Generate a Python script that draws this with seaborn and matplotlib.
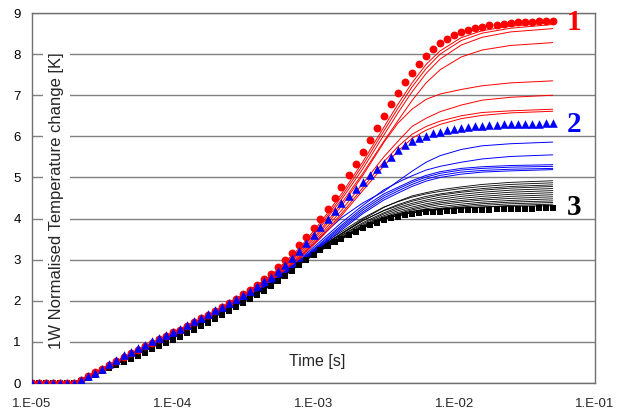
import matplotlib
matplotlib.use("Agg")
import matplotlib.pyplot as plt
from matplotlib.patches import Rectangle
from matplotlib.ticker import NullLocator
import seaborn as sns

# ---------------- data ----------------
TIME = [
    1.00e-05, 1.12e-05, 1.26e-05, 1.41e-05, 1.58e-05, 1.78e-05, 2.00e-05, 2.24e-05, 2.51e-05, 2.82e-05,
    3.16e-05, 3.55e-05, 3.98e-05, 4.47e-05, 5.01e-05, 5.62e-05, 6.31e-05, 7.08e-05, 7.94e-05, 8.91e-05,
    1.00e-04, 1.12e-04, 1.26e-04, 1.41e-04, 1.58e-04, 1.78e-04, 2.00e-04, 2.24e-04, 2.51e-04, 2.82e-04,
    3.16e-04, 3.55e-04, 3.98e-04, 4.47e-04, 5.01e-04, 5.62e-04, 6.31e-04, 7.08e-04, 7.94e-04, 8.91e-04,
    1.00e-03, 1.12e-03, 1.26e-03, 1.41e-03, 1.58e-03, 1.78e-03, 2.00e-03, 2.24e-03, 2.51e-03, 2.82e-03,
    3.16e-03, 3.55e-03, 3.98e-03, 4.47e-03, 5.01e-03, 5.62e-03, 6.31e-03, 7.08e-03, 7.94e-03, 8.91e-03,
    1.00e-02, 1.12e-02, 1.26e-02, 1.41e-02, 1.58e-02, 1.78e-02, 2.00e-02, 2.24e-02, 2.51e-02, 2.82e-02,
    3.16e-02, 3.55e-02, 3.98e-02, 4.47e-02, 5.01e-02,
]

CURVE_1 = [
    0, 0, 0, 0, 0, 0, 0,
    0.07, 0.17, 0.26, 0.35, 0.45, 0.54, 0.64, 0.72, 0.80, 0.90, 0.98, 1.06, 1.15,
    1.23, 1.30, 1.39, 1.48, 1.57, 1.66, 1.75, 1.85, 1.95, 2.05,
    2.16, 2.27, 2.39, 2.52, 2.66, 2.81, 2.98, 3.16, 3.35, 3.55,
    3.76, 3.99, 4.23, 4.49, 4.76, 5.05, 5.33, 5.61, 5.91, 6.21,
    6.49, 6.78, 7.05, 7.31, 7.54, 7.76, 7.95, 8.12, 8.26, 8.37,
    8.46, 8.53, 8.59, 8.63, 8.67, 8.70, 8.72, 8.74, 8.76, 8.77,
    8.78, 8.79, 8.80, 8.80, 8.81,
]

CURVE_2 = [
    0, 0, 0, 0, 0, 0, 0,
    0.08, 0.17, 0.25, 0.35, 0.46, 0.56, 0.67, 0.76, 0.84, 0.93, 1.01, 1.09, 1.17,
    1.25, 1.32, 1.41, 1.50, 1.59, 1.68, 1.77, 1.86, 1.95, 2.05,
    2.15, 2.25, 2.36, 2.47, 2.59, 2.72, 2.88, 3.05, 3.22, 3.40,
    3.59, 3.79, 3.99, 4.18, 4.37, 4.55, 4.73, 4.90, 5.06, 5.21,
    5.35, 5.50, 5.66, 5.78, 5.88, 5.96, 6.02, 6.07, 6.11, 6.15,
    6.18, 6.21, 6.23, 6.25, 6.26, 6.27, 6.28, 6.29, 6.29, 6.30,
    6.30, 6.31, 6.31, 6.32, 6.32,
]

CURVE_3 = [
    0, 0, 0, 0, 0, 0, 0,
    0.04, 0.12, 0.20, 0.28, 0.36, 0.44, 0.52, 0.59, 0.66, 0.74, 0.82, 0.90, 0.98,
    1.05, 1.13, 1.21, 1.29, 1.38, 1.47, 1.56, 1.65, 1.74, 1.84,
    1.94, 2.04, 2.14, 2.25, 2.36, 2.47, 2.60, 2.73, 2.87, 3.00,
    3.12, 3.23, 3.33, 3.42, 3.51, 3.60, 3.68, 3.77, 3.84, 3.90,
    3.96, 4.01, 4.05, 4.08, 4.11, 4.13, 4.15, 4.16, 4.17, 4.18,
    4.19, 4.20, 4.21, 4.21, 4.22, 4.22, 4.23, 4.23, 4.23, 4.24,
    4.24, 4.24, 4.25, 4.25, 4.25,
]

THIN_TIME = [1.00e-05, 2.00e-05, 3.16e-05, 5.62e-05, 1.00e-04, 1.78e-04, 3.16e-04, 5.01e-04,
             7.94e-04, 1.12e-03, 1.58e-03, 2.24e-03, 3.16e-03, 3.98e-03, 5.01e-03, 6.31e-03,
             7.94e-03, 1.12e-02, 1.58e-02, 2.51e-02, 5.01e-02]

RED_THIN = [
    [0, 0, 0.35, 0.80, 1.23, 1.65, 2.15, 2.62, 3.28, 3.90, 4.60, 5.38, 6.22, 6.78, 7.30, 7.75, 8.08, 8.40, 8.57, 8.68, 8.76],
    [0, 0, 0.34, 0.79, 1.22, 1.64, 2.14, 2.60, 3.24, 3.84, 4.53, 5.30, 6.13, 6.68, 7.20, 7.65, 8.00, 8.33, 8.51, 8.63, 8.72],
    [0, 0, 0.35, 0.80, 1.22, 1.64, 2.13, 2.58, 3.20, 3.79, 4.46, 5.21, 6.03, 6.57, 7.08, 7.53, 7.88, 8.22, 8.41, 8.54, 8.62],
    [0, 0, 0.34, 0.79, 1.21, 1.63, 2.12, 2.56, 3.16, 3.72, 4.37, 5.10, 5.88, 6.38, 6.87, 7.30, 7.62, 7.93, 8.10, 8.21, 8.28],
    [0, 0, 0.35, 0.80, 1.22, 1.63, 2.12, 2.55, 3.12, 3.67, 4.30, 5.05, 5.85, 6.32, 6.66, 6.90, 7.03, 7.14, 7.23, 7.30, 7.35],
    [0, 0, 0.34, 0.79, 1.21, 1.62, 2.11, 2.53, 3.08, 3.61, 4.20, 4.85, 5.50, 5.88, 6.24, 6.44, 6.60, 6.76, 6.88, 6.95, 7.00],
    [0, 0, 0.34, 0.79, 1.21, 1.62, 2.10, 2.52, 3.05, 3.56, 4.12, 4.75, 5.38, 5.75, 6.05, 6.24, 6.37, 6.50, 6.58, 6.62, 6.66],
    [0, 0, 0.33, 0.78, 1.20, 1.61, 2.09, 2.50, 3.02, 3.52, 4.07, 4.68, 5.28, 5.64, 5.95, 6.15, 6.29, 6.43, 6.51, 6.57, 6.61],
]

BLUE_THIN = [
    [0, 0, 0.34, 0.80, 1.21, 1.62, 2.10, 2.50, 3.05, 3.55, 4.02, 4.38, 4.66, 4.91, 5.15, 5.37, 5.53, 5.68, 5.77, 5.82, 5.86],
    [0, 0, 0.34, 0.79, 1.20, 1.61, 2.09, 2.48, 3.00, 3.45, 3.90, 4.32, 4.70, 4.88, 5.04, 5.18, 5.27, 5.37, 5.45, 5.51, 5.55],
    [0, 0, 0.33, 0.79, 1.20, 1.61, 2.08, 2.46, 2.97, 3.40, 3.84, 4.26, 4.60, 4.76, 4.92, 5.05, 5.14, 5.22, 5.26, 5.29, 5.31],
    [0, 0, 0.33, 0.78, 1.19, 1.60, 2.08, 2.45, 2.95, 3.37, 3.80, 4.21, 4.55, 4.72, 4.88, 5.01, 5.10, 5.18, 5.22, 5.25, 5.27],
    [0, 0, 0.33, 0.78, 1.19, 1.60, 2.07, 2.44, 2.93, 3.34, 3.76, 4.16, 4.50, 4.67, 4.83, 4.96, 5.05, 5.13, 5.17, 5.20, 5.22],
    [0, 0, 0.32, 0.78, 1.18, 1.59, 2.07, 2.43, 2.91, 3.31, 3.72, 4.12, 4.45, 4.62, 4.78, 4.91, 5.00, 5.08, 5.13, 5.16, 5.19],
]

BLACK_THIN = [
    [0, 0, 0.32, 0.75, 1.14, 1.57, 2.02, 2.42, 2.95, 3.30, 3.63, 3.98, 4.27, 4.42, 4.55, 4.63, 4.70, 4.77, 4.83, 4.88, 4.92],
    [0, 0, 0.33, 0.76, 1.15, 1.58, 2.03, 2.45, 2.98, 3.35, 3.68, 4.01, 4.28, 4.41, 4.52, 4.60, 4.66, 4.73, 4.78, 4.83, 4.87],
    [0, 0, 0.31, 0.74, 1.13, 1.56, 2.01, 2.42, 2.94, 3.30, 3.62, 3.95, 4.20, 4.34, 4.45, 4.54, 4.60, 4.67, 4.73, 4.78, 4.82],
    [0, 0, 0.32, 0.75, 1.14, 1.57, 2.02, 2.43, 2.96, 3.32, 3.64, 3.95, 4.19, 4.31, 4.42, 4.50, 4.57, 4.64, 4.69, 4.74, 4.78],
    [0, 0, 0.31, 0.74, 1.13, 1.55, 2.00, 2.41, 2.93, 3.28, 3.59, 3.90, 4.14, 4.27, 4.37, 4.45, 4.52, 4.59, 4.64, 4.69, 4.73],
    [0, 0, 0.31, 0.74, 1.13, 1.56, 2.01, 2.42, 2.94, 3.29, 3.58, 3.87, 4.11, 4.23, 4.33, 4.41, 4.47, 4.54, 4.59, 4.64, 4.68],
    [0, 0, 0.30, 0.73, 1.12, 1.55, 2.00, 2.40, 2.92, 3.27, 3.55, 3.84, 4.07, 4.19, 4.28, 4.36, 4.42, 4.49, 4.54, 4.59, 4.63],
    [0, 0, 0.30, 0.73, 1.12, 1.54, 1.99, 2.40, 2.91, 3.26, 3.54, 3.82, 4.04, 4.15, 4.24, 4.32, 4.38, 4.44, 4.49, 4.54, 4.58],
    [0, 0, 0.31, 0.73, 1.12, 1.55, 2.00, 2.41, 2.92, 3.26, 3.53, 3.80, 4.02, 4.12, 4.21, 4.28, 4.34, 4.40, 4.45, 4.49, 4.53],
    [0, 0, 0.30, 0.72, 1.11, 1.54, 1.99, 2.39, 2.90, 3.24, 3.51, 3.78, 3.99, 4.09, 4.17, 4.24, 4.29, 4.35, 4.40, 4.44, 4.48],
    [0, 0, 0.29, 0.72, 1.10, 1.53, 1.98, 2.38, 2.89, 3.23, 3.50, 3.77, 3.98, 4.07, 4.14, 4.20, 4.25, 4.31, 4.36, 4.40, 4.43],
    [0, 0, 0.29, 0.71, 1.10, 1.53, 1.98, 2.38, 2.89, 3.23, 3.51, 3.78, 3.99, 4.07, 4.14, 4.19, 4.23, 4.28, 4.32, 4.36, 4.39],
    [0, 0, 0.29, 0.71, 1.09, 1.52, 1.97, 2.37, 2.88, 3.22, 3.50, 3.78, 3.99, 4.07, 4.14, 4.18, 4.22, 4.25, 4.28, 4.32, 4.35],
    [0, 0, 0.29, 0.71, 1.10, 1.53, 1.98, 2.38, 2.88, 3.23, 3.52, 3.81, 4.02, 4.11, 4.18, 4.21, 4.24, 4.26, 4.28, 4.30, 4.31],
]

X_TICKS = [1e-5, 1e-4, 1e-3, 1e-2, 1e-1]
X_TICK_LABELS = ["1.E-05", "1.E-04", "1.E-03", "1.E-02", "1.E-01"]
Y_TICKS = [0, 1, 2, 3, 4, 5, 6, 7, 8, 9]
SERIES_LABELS = ["1", "2", "3"]
SERIES_LABEL_Y = [8.76, 6.28, 4.26]

RED = "#FF0000"
BLUE = "#0000FF"
BLACK = "#000000"

# ---------------- style ----------------
sns.set_style("white")
plt.rcParams["font.family"] = ["Liberation Sans", "DejaVu Sans"]

fig = plt.figure(figsize=(6.24, 4.15), dpi=100)
ax = fig.add_axes([32 / 624, 1 - 383 / 415, 563 / 624, 370 / 415])
ax.set_xscale("log")

for curves, col, lw in [(BLACK_THIN, BLACK, 0.6), (BLUE_THIN, BLUE, 0.7), (RED_THIN, RED, 0.7)]:
    for c in curves:
        sns.lineplot(x=THIN_TIME, y=c, ax=ax, color=col, lw=lw, zorder=2)

sns.scatterplot(x=TIME, y=CURVE_3, ax=ax, marker="s", s=24, color=BLACK, linewidth=0, zorder=3)
sns.scatterplot(x=TIME, y=CURVE_1, ax=ax, marker="o", s=32, color=RED, linewidth=0, zorder=4)
sns.scatterplot(x=TIME, y=CURVE_2, ax=ax, marker="^", s=38, color=BLUE, linewidth=0, zorder=5)

ax.set_xlim(1e-5, 1e-1)
ax.set_ylim(0, 9)
ax.set_xticks(X_TICKS)
ax.set_xticklabels(X_TICK_LABELS)
ax.xaxis.set_minor_locator(NullLocator())
ax.set_yticks(Y_TICKS)
ax.set_yticklabels([str(v) for v in Y_TICKS])
ax.set_xlabel("")
ax.set_ylabel("")

ax.set_axisbelow(True)
ax.grid(axis="y", color="#808080", lw=1)
ax.grid(axis="x", visible=False)
for sp in ax.spines.values():
    sp.set_color("#707070")
    sp.set_linewidth(1)

ax.tick_params(axis="y", length=0, pad=8, labelsize=9.5, colors="black")
ax.tick_params(axis="x", length=4, width=1, direction="out", color="#707070", pad=7, labelsize=9.5)

# white box behind the vertical axis title (as in the original)
ax.add_patch(Rectangle((11 / 563, 29 / 370), 27 / 563, 305 / 370, transform=ax.transAxes,
                       facecolor="white", edgecolor="none", zorder=1))
ax.text(24.5 / 563, 0.492, "1W Normalised Temperature change [K]", rotation=90,
        ha="center", va="center", transform=ax.transAxes, fontsize=12, zorder=6)
ax.text(0.506, 0.057, "Time [s]", ha="center", va="center", transform=ax.transAxes,
        fontsize=11.5, zorder=6)

for lab, yv, col in zip(SERIES_LABELS, SERIES_LABEL_Y, [RED, BLUE, BLACK]):
    ax.text(0.071, yv, lab, color=col, fontsize=21, fontweight="bold",
            family=["Liberation Serif", "DejaVu Serif"], ha="center", va="center", zorder=6,
            clip_on=False)

fig.savefig("out.png", dpi=100)
